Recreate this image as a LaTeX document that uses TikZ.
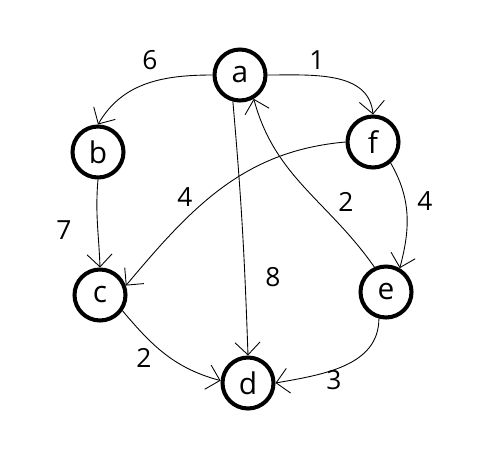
\documentclass[tikz,border=0pt]{standalone}
\usepackage{fontspec}
\setmainfont{Open Sans}
\usetikzlibrary{arrows.meta}

\begin{document}
\begin{tikzpicture}[x=0.02cm,y=-0.02cm,
  vertex/.style={circle,draw,line width=2.3pt,minimum size=1.02cm,inner sep=0pt,font=\fontsize{17}{20}\selectfont},
  edge/.style={line width=.5pt,-{Straight Barb[length=2.5mm,width=5mm]}},
  wt/.style={font=\fontsize{15}{18}\selectfont}]
\useasboundingbox (0,0) rectangle (504,454);
% vertices
\node[vertex] (a) at (240,75) {a};
\node[vertex] (f) at (373,142) {f};
\node[vertex] (b) at (98,152) {b};
\node[vertex] (c) at (100,295) {c};
\node[vertex] (e) at (386,292) {e};
\node[vertex] (d) at (248,383) {d};
% edges
\draw[edge] (a.west) to[out=180,in=60] (b.north);
\draw[edge] (a.east) to[out=0,in=95] (f.north);
\draw[edge] (a.-105) to[out=-85,in=92] (d.north);
\draw[edge] (e.115) to[out=125,in=-75] (a.-60);
\draw[edge] (f.-50) to[out=-60,in=75] (e.60);
\draw[edge] (f.west) to[out=185,in=50] (c.20);
\draw[edge] (b.south) to[out=-95,in=92] (c.north);
\draw[edge] (c.-35) to[out=-50,in=165] (d.175);
\draw[edge] (e.-105) to[out=-90,in=10] (d.east);
% weights
\node[wt] (w6) at (150,60) {6};
\node[wt] (w1) at (317,60) {1};
\node[wt] (w4a) at (185,197) {4};
\node[wt] (w2a) at (346,202) {2};
\node[wt] (w4b) at (425,201) {4};
\node[wt] (w7) at (64,230) {7};
\node[wt] (w8) at (273,277) {8};
\node[wt] (w2b) at (144,358) {2};
\node[wt] (w3) at (334,380) {3};
\end{tikzpicture}
\end{document}
